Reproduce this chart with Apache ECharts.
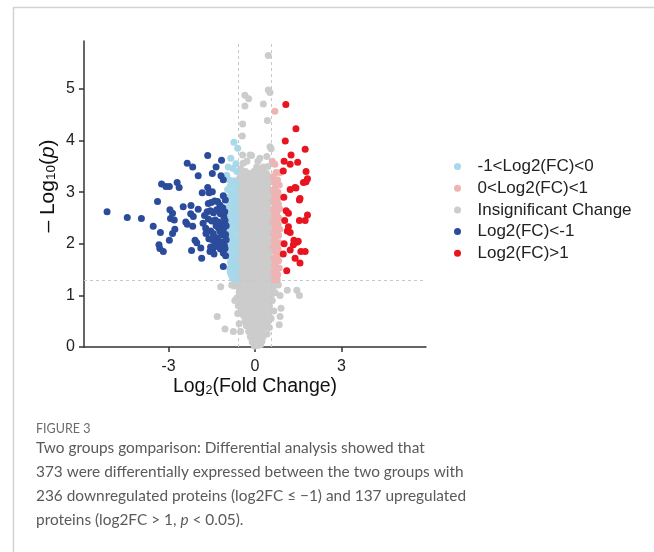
<!DOCTYPE html>
<html>
<head>
<meta charset="utf-8">
<script src="https://cdn.jsdelivr.net/npm/echarts@6/dist/echarts.min.js"></script>
<style>
html,body{margin:0;padding:0;background:#fff;}
#chart{width:654px;height:552px;}
</style>
</head>
<body>
<div id="chart"></div>
<script>
// ---- tick labels ----
var xTicks = [-3, 0, 3];
var yTicks = [0, 1, 2, 3, 4, 5];
var fcCut = 0.585;     // dashed vertical lines (log2 1.5)
var pCut = 1.301;      // dashed horizontal line (-log10 0.05)

// ---- series names ----
var seriesNames = ['-1<Log2(FC)<0', '0<Log2(FC)<1', 'Insignificant Change', 'Log2(FC)<-1', 'Log2(FC)>1'];

// ---- data: [log2FC, -log10(p)] ----
var lightBlue = [
[-0.73,3.97],[-0.60,3.85],[-0.84,3.66],[-0.93,3.49],[-0.76,3.46],[-0.98,3.33],[-0.66,3.55],[-0.63,3.40],
[-0.90,3.24],[-0.72,3.22],[-0.64,3.15],[-0.86,3.12],[-0.95,3.05],[-0.70,3.06],
[-0.82,2.98],[-0.66,2.95],[-0.92,2.90],[-0.78,2.86],[-0.64,2.82],[-0.88,2.78],
[-0.70,2.74],[-0.94,2.70],[-0.80,2.66],[-0.66,2.62],[-0.89,2.58],[-0.75,2.54],
[-0.62,2.50],[-0.93,2.46],[-0.82,2.43],[-0.68,2.40],[-0.88,2.35],[-0.76,2.31],
[-0.63,2.28],[-0.92,2.24],[-0.80,2.20],[-0.69,2.16],[-0.87,2.12],[-0.74,2.08],
[-0.62,2.04],[-0.90,2.00],[-0.79,1.96],[-0.67,1.92],[-0.86,1.88],[-0.74,1.84],
[-0.63,1.80],[-0.89,1.76],[-0.78,1.72],[-0.68,1.68],[-0.85,1.64],[-0.73,1.60],
[-0.62,1.56],[-0.88,1.52],[-0.77,1.48],[-0.66,1.44],[-0.82,1.40],[-0.71,1.36],
[-0.64,1.32],[-0.78,1.33],[-0.86,1.45],[-0.95,1.90],[-0.96,2.55],[-0.69,1.31]
];
var pink = [
[0.69,4.57],[0.60,3.60],[0.69,3.54],[0.87,3.38],[0.73,3.38],[0.62,3.30],
[0.78,3.24],[0.66,3.20],[0.84,3.14],[0.71,3.10],[0.62,3.04],[0.80,3.00],
[0.68,2.95],[0.86,2.90],[0.74,2.86],[0.63,2.82],[0.81,2.77],[0.70,2.72],
[0.85,2.68],[0.64,2.64],[0.76,2.60],[0.67,2.55],[0.83,2.50],[0.72,2.46],
[0.62,2.42],[0.80,2.38],[0.69,2.33],[0.86,2.28],[0.75,2.24],[0.63,2.20],
[0.82,2.16],[0.70,2.12],[0.66,2.06],[0.84,2.02],[0.73,1.98],[0.62,1.94],
[0.80,1.90],[0.69,1.85],[0.86,1.80],[0.76,1.76],[0.64,1.72],[0.82,1.67],
[0.71,1.62],[0.67,1.57],[0.84,1.53],[0.74,1.48],[0.63,1.44],[0.79,1.40],
[0.70,1.35],[0.65,1.31],[0.77,1.30]
];
var gray = [
[0.46,5.65],[-0.35,4.88],[-0.22,4.81],[-0.35,4.67],[0.46,4.98],[0.52,4.93],[0.29,4.71],[0.43,4.39],
[-0.43,4.32],[-0.44,4.09],[0.52,3.88],[0.56,3.84],[-0.43,3.72],[-0.17,3.72],[-0.12,3.71],[0.17,3.66],
[0.41,3.69],[-0.41,3.56],[0.06,3.49],[0.29,3.49],[-0.50,3.45],[0.45,3.50],[-0.28,3.60],[0.10,3.60],
[-0.48,3.38],[-0.33,3.40],[-0.18,3.36],[-0.02,3.41],[0.12,3.37],[0.26,3.42],[0.40,3.36],
[-0.53,3.28],[-0.39,3.31],[-0.25,3.27],[-0.10,3.30],[0.05,3.28],[0.19,3.31],[0.33,3.27],[0.47,3.30],
[-0.49,3.19],[-0.35,3.21],[-0.20,3.18],[-0.06,3.20],[0.08,3.19],[0.22,3.21],[0.36,3.17],[0.50,3.20],
[-0.54,3.09],[-0.40,3.11],[-0.26,3.08],[-0.12,3.10],[0.02,3.09],[0.16,3.12],[0.30,3.08],[0.44,3.11],
[-0.50,2.99],[-0.36,3.01],[-0.21,2.98],[-0.07,3.00],[0.07,2.99],[0.21,3.01],[0.35,2.97],[0.49,3.00],
[-0.55,2.89],[-0.41,2.91],[-0.27,2.88],[-0.13,2.90],[0.01,2.89],[0.15,2.91],[0.29,2.88],[0.43,2.90],[0.53,2.92],
[-0.49,2.79],[-0.35,2.81],[-0.21,2.78],[-0.07,2.80],[0.07,2.79],[0.21,2.81],[0.35,2.77],[0.48,2.80],
[-0.54,2.69],[-0.40,2.71],[-0.26,2.68],[-0.12,2.70],[0.02,2.69],[0.16,2.71],[0.30,2.68],[0.44,2.70],[0.54,2.67],
[-0.50,2.59],[-0.36,2.61],[-0.22,2.58],[-0.08,2.60],[0.06,2.59],[0.20,2.61],[0.34,2.58],[0.48,2.60],
[-0.55,2.49],[-0.41,2.51],[-0.27,2.48],[-0.13,2.50],[0.01,2.49],[0.15,2.51],[0.29,2.48],[0.43,2.50],[0.53,2.47],
[-0.49,2.39],[-0.35,2.41],[-0.21,2.38],[-0.07,2.40],[0.07,2.39],[0.21,2.41],[0.35,2.38],[0.49,2.40],
[-0.54,2.29],[-0.40,2.31],[-0.26,2.28],[-0.12,2.30],[0.02,2.29],[0.16,2.31],[0.30,2.28],[0.44,2.30],[0.54,2.27],
[-0.50,2.19],[-0.36,2.21],[-0.22,2.18],[-0.08,2.20],[0.06,2.19],[0.20,2.21],[0.34,2.18],[0.48,2.20],
[-0.55,2.09],[-0.41,2.11],[-0.27,2.08],[-0.13,2.10],[0.01,2.09],[0.15,2.11],[0.29,2.08],[0.43,2.10],[0.53,2.07],
[-0.49,1.99],[-0.35,2.01],[-0.21,1.98],[-0.07,2.00],[0.07,1.99],[0.21,2.01],[0.35,1.98],[0.49,2.00],
[-0.54,1.89],[-0.40,1.91],[-0.26,1.88],[-0.12,1.90],[0.02,1.89],[0.16,1.91],[0.30,1.88],[0.44,1.90],[0.54,1.87],
[-0.50,1.79],[-0.36,1.81],[-0.22,1.78],[-0.08,1.80],[0.06,1.79],[0.20,1.81],[0.34,1.78],[0.48,1.80],
[-0.55,1.69],[-0.41,1.71],[-0.27,1.68],[-0.13,1.70],[0.01,1.69],[0.15,1.71],[0.29,1.68],[0.43,1.70],[0.53,1.67],
[-0.49,1.59],[-0.35,1.61],[-0.21,1.58],[-0.07,1.60],[0.07,1.59],[0.21,1.61],[0.35,1.58],[0.49,1.60],
[-0.54,1.49],[-0.40,1.51],[-0.26,1.48],[-0.12,1.50],[0.02,1.49],[0.16,1.51],[0.30,1.48],[0.44,1.50],[0.54,1.47],
[-0.50,1.39],[-0.36,1.41],[-0.22,1.38],[-0.08,1.40],[0.06,1.39],[0.20,1.41],[0.34,1.38],[0.48,1.40],
[-0.55,1.29],[-0.41,1.31],[-0.27,1.28],[-0.13,1.30],[0.01,1.29],[0.15,1.31],[0.29,1.28],[0.43,1.30],[0.53,1.27],
[-0.49,1.19],[-0.35,1.21],[-0.21,1.18],[-0.07,1.20],[0.07,1.19],[0.21,1.21],[0.35,1.18],[0.49,1.20],
[-0.54,1.09],[-0.40,1.11],[-0.26,1.08],[-0.12,1.10],[0.02,1.09],[0.16,1.11],[0.30,1.08],[0.44,1.10],[0.54,1.07],
[-0.50,0.99],[-0.36,1.01],[-0.22,0.98],[-0.08,1.00],[0.06,0.99],[0.20,1.01],[0.34,0.98],[0.48,1.00],
[-0.50,0.90],[-0.36,0.91],[-0.22,0.89],[-0.08,0.90],[0.06,0.91],[0.20,0.89],[0.34,0.90],[0.48,0.91],
[-0.47,0.81],[-0.33,0.79],[-0.19,0.82],[-0.05,0.80],[0.09,0.81],[0.23,0.79],[0.37,0.82],[0.50,0.80],
[-0.44,0.70],[-0.30,0.72],[-0.16,0.69],[-0.02,0.71],[0.12,0.70],[0.26,0.72],[0.40,0.69],[0.50,0.71],
[-0.40,0.61],[-0.26,0.59],[-0.12,0.62],[0.02,0.60],[0.16,0.61],[0.30,0.59],[0.44,0.62],
[-0.35,0.50],[-0.21,0.52],[-0.07,0.49],[0.07,0.51],[0.20,0.50],[0.33,0.52],[0.43,0.48],
[-0.30,0.41],[-0.16,0.39],[-0.02,0.42],[0.11,0.40],[0.24,0.41],[0.36,0.39],
[-0.22,0.30],[-0.09,0.31],[0.04,0.29],[0.16,0.32],[0.29,0.30],
[-0.16,0.20],[-0.04,0.21],[0.08,0.19],[0.19,0.22],[0.28,0.20],
[-0.10,0.10],[0.03,0.09],[0.15,0.12],[0.24,0.11],
[-0.02,0.02],[0.10,0.03],[0.20,0.05],
[-0.55,1.05],[-0.60,1.20],[-0.66,1.25],[-0.72,1.18],[-0.81,1.20],[-1.19,1.17],[-0.63,0.95],[-0.70,0.90],
[-1.31,0.59],[-1.04,0.35],[-0.75,0.30],[-0.55,0.45],[-0.50,0.30],[-0.60,0.65],[-0.58,0.80],
[0.58,1.25],[0.62,1.15],[0.72,1.20],[0.81,1.20],[1.12,1.10],[1.45,1.10],[1.54,1.00],[0.87,1.00],
[0.90,0.75],[0.87,0.59],[0.84,0.43],[0.60,0.90],[0.65,0.70],[0.56,0.55],[0.50,0.38],[0.42,0.25],
[0.58,1.02],[0.70,1.05]
];
var darkBlue = [
[-5.13,2.62],[-4.43,2.51],[-3.94,2.49],[-3.53,2.34],[-3.28,2.22],[-3.38,2.82],
[-3.24,3.16],[-3.09,3.11],[-2.97,3.11],[-2.70,3.19],[-2.63,3.09],
[-2.35,3.56],[-2.16,3.49],[-1.64,3.71],[-1.35,3.49],[-1.16,3.62],
[-1.97,3.32],[-1.48,3.36],[-1.18,3.32],[-1.10,3.24],
[-1.64,3.09],[-1.83,2.99],[-1.59,2.99],[-1.48,3.01],[-1.10,2.93],
[-2.95,2.66],[-2.86,2.59],[-2.93,2.49],[-2.80,2.46],
[-2.49,2.72],[-2.22,2.74],[-1.97,2.67],[-2.23,2.58],[-2.14,2.53],
[-2.40,2.42],[-2.35,2.38],[-2.16,2.34],
[-2.78,2.28],[-2.86,2.20],[-2.97,2.07],
[-3.33,1.98],[-3.30,1.91],[-3.18,1.85],
[-2.08,2.07],[-2.02,2.02],[-2.20,1.87],
[-1.85,1.72],[-1.88,1.92],[-1.10,1.56],
[-1.54,1.94],[-1.56,1.85],[-1.47,1.88],[-1.39,2.02],
[-1.71,2.30],[-1.70,2.20],[-1.54,2.25],[-1.45,2.20],[-1.27,2.31],[-1.16,2.17],[-1.08,2.04],[-1.04,1.91],
[-1.62,2.78],[-1.52,2.80],[-1.40,2.83],[-1.30,2.82],[-1.22,2.75],[-1.12,2.70],
[-1.66,2.62],[-1.55,2.64],[-1.44,2.60],[-1.33,2.66],[-1.20,2.58],[-1.08,2.52],
[-1.62,2.48],[-1.50,2.44],[-1.38,2.46],[-1.26,2.42],[-1.14,2.38],[-1.04,2.45],
[-1.35,2.35],[-1.22,2.25],[-1.10,2.28],[-1.02,2.18],
[-1.60,2.10],[-1.48,2.08],[-1.36,2.12],[-1.25,2.05],[-1.15,2.00],[-1.06,1.96],
[-1.30,1.95],[-1.20,1.90],[-1.10,1.82],[-1.02,1.77],[-1.42,1.80],
[-1.75,2.55],[-1.80,2.40],[-1.05,2.62],[-1.03,2.85],[-1.00,2.35],[-1.00,2.08]
];
var red = [
[1.07,4.70],[1.42,4.23],[1.05,3.99],[1.74,3.83],[1.25,3.72],[1.01,3.60],[1.22,3.54],[1.48,3.58],
[1.77,3.40],[1.68,3.19],[1.82,3.26],[1.42,3.08],[1.22,3.05],[1.56,2.88],[0.98,3.41],
[1.39,3.09],[1.54,2.85],[1.08,2.64],[1.16,2.59],[1.82,2.56],[1.74,2.45],[1.54,2.45],
[1.16,2.33],[1.12,2.25],[1.22,2.22],[1.35,2.07],[1.45,2.03],[1.50,2.05],[1.33,1.98],[1.01,2.00],
[1.22,1.88],[1.59,1.85],[1.74,1.85],[0.98,1.80],[1.39,1.72],[1.56,1.63],[1.10,1.48],
[1.00,2.90],[1.03,2.45],[1.77,3.20]
];

// ---- caption ----
var captionTitle = 'FIGURE 3';
var captionLines = [
  'Two groups gomparison: Differential analysis showed that',
  '373 were differentially expressed between the two groups with',
  '236 downregulated proteins (log2FC \u2264 \u22121) and 137 upregulated',
  'proteins (log2FC > 1, {i|p} < 0.05).'
];

var colors = ['#a8d8ea', '#eeb4b4', '#cccccc', '#2b4b9b', '#e8141f'];
var seriesData = [lightBlue, pink, gray, darkBlue, red];
var seriesZ = [3, 3, 2, 4, 4];

var FONT = '"Liberation Sans", Arial, sans-serif';
var CAPFONT = 'Lato, "Open Sans", sans-serif';

var chart = echarts.init(document.getElementById('chart'), null, {renderer: 'canvas'});

var series = seriesData.map(function (d, i) {
  var s = {
    name: seriesNames[i],
    type: 'scatter',
    data: d,
    symbol: 'circle',
    symbolSize: 7,
    z: seriesZ[i],
    itemStyle: {color: colors[i], opacity: 1},
    emphasis: {disabled: true},
    animation: false
  };
  if (i === 2) {
    s.markLine = {
      silent: true,
      symbol: ['none', 'none'],
      label: {show: false},
      lineStyle: {color: '#c8c8c8', type: [3, 3], width: 1},
      data: [{xAxis: -fcCut}, {xAxis: fcCut}, {yAxis: pCut}],
      animation: false
    };
  }
  return s;
});

var captionGraphics = [{
  type: 'text', x: 36, y: 429,
  style: {text: captionTitle, font: '12.5px ' + CAPFONT, fill: '#6b6b6b', align: 'left', verticalAlign: 'middle'}
}];
captionLines.forEach(function (t, i) {
  captionGraphics.push({
    type: 'text', x: 36, y: 448 + i * 24,
    style: {
      text: t, fontSize: 15.4, fontFamily: CAPFONT, fill: '#5a5a5a', align: 'left', verticalAlign: 'middle',
      rich: {i: {fontSize: 15.4, fontFamily: CAPFONT, fontStyle: 'italic', fill: '#5a5a5a'}}
    }
  });
});

var option = {
  backgroundColor: '#ffffff',
  animation: false,
  textStyle: {fontFamily: FONT},
  grid: {left: 84, right: 228, top: 41, bottom: 205, containLabel: false},
  xAxis: {
    type: 'value', min: -5.93, max: 5.93,
    axisLine: {show: true, onZero: false, lineStyle: {color: '#333', width: 1.5}},
    axisTick: {show: true, length: 5, customValues: xTicks, lineStyle: {color: '#333', width: 1.5}},
    axisLabel: {customValues: xTicks, margin: 12, fontSize: 16, color: '#222', fontFamily: FONT},
    splitLine: {show: false}
  },
  yAxis: {
    type: 'value', min: 0, max: 5.93,
    axisLine: {show: true, onZero: false, lineStyle: {color: '#333', width: 1.5}},
    axisTick: {show: true, length: 5, customValues: yTicks, lineStyle: {color: '#333', width: 1.5}},
    axisLabel: {customValues: yTicks, margin: 9, fontSize: 16, color: '#222', fontFamily: FONT},
    splitLine: {show: false}
  },
  legend: {
    orient: 'vertical',
    left: 449, top: 153,
    data: seriesNames,
    icon: 'circle',
    itemWidth: 30, itemHeight: 7,
    itemGap: 4.7,
    selectedMode: false,
    textStyle: {fontSize: 17, color: '#222', fontFamily: FONT, lineHeight: 17}
  },
  series: series,
  graphic: [
    {type: 'polyline', silent: true, shape: {points: [[13.5, 552], [13.5, 7.5], [654, 7.5]]},
     style: {stroke: '#d2d2d2', lineWidth: 1.5, fill: null}},
    {type: 'text', x: 255, y: 387,
     style: {text: 'Log{s|2}(Fold Change)', fontSize: 19.5, fontFamily: FONT, fill: '#111', align: 'center', verticalAlign: 'middle',
       rich: {s: {fontSize: 12.5, fontFamily: FONT, fill: '#111', lineHeight: 8, verticalAlign: 'bottom'}}}},
    {type: 'text', x: 48, y: 186, rotation: Math.PI / 2,
     style: {text: '\u2013 Log{s|10}({i|p})', fontSize: 21, fontFamily: FONT, fill: '#111', align: 'center', verticalAlign: 'middle',
       rich: {s: {fontSize: 13.5, fontFamily: FONT, fill: '#111', lineHeight: 8, verticalAlign: 'bottom'},
              i: {fontSize: 21, fontFamily: FONT, fill: '#111', fontStyle: 'italic'}}}}
  ].concat(captionGraphics)
};
chart.setOption(option);
</script>
</body>
</html>
